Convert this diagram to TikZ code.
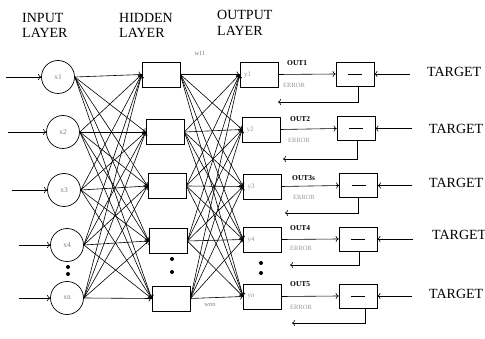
\documentclass[tikz,border=0pt]{standalone}
\usepackage{fontspec}
\setmainfont{Liberation Serif}
\usetikzlibrary{arrows.meta}
\begin{document}
\begin{tikzpicture}[x=1pt,y=-1pt,
  every node/.style={inner sep=0pt},
  neuron/.style={circle,draw,line width=0.7pt,minimum size=33pt,font=\fontsize{7.5}{8}\selectfont,text=gray},
  hid/.style={draw,line width=0.7pt,minimum width=38pt,minimum height=25pt},
  outb/.style={draw,line width=0.7pt,minimum width=38pt,minimum height=25pt,inner xsep=4pt,text width=30pt,align=left,font=\fontsize{7}{8}\selectfont,text=gray!80},
  comp/.style={draw,line width=0.7pt,minimum width=38pt,minimum height=24pt},
  conn/.style={line width=0.6pt,-{To[length=3pt,width=6pt]}},
  bigtxt/.style={font=\fontsize{14}{16}\selectfont,anchor=base west},
  outlbl/.style={font=\bfseries\fontsize{7.5}{9}\selectfont,anchor=base west},
  errlbl/.style={font=\fontsize{6.5}{8}\selectfont,text=gray!80,anchor=base west},
  wlbl/.style={font=\fontsize{6.5}{8}\selectfont,text=gray},
  dotmark/.style={fill=black},
]
\useasboundingbox (0,0) rectangle (485,339);

% layer titles
\node[bigtxt] (inA) at (22,23) {INPUT};
\node[bigtxt] (inB) at (22,38) {LAYER};
\node[bigtxt] (hiA) at (119,23) {HIDDEN};
\node[bigtxt] (hiB) at (119,38) {LAYER};
\node[bigtxt] (ouA) at (217,20) {OUTPUT};
\node[bigtxt] (ouB) at (217,36) {LAYER};

% input neurons
\node[neuron] (x1) at (58,77) {x1\hspace{8pt}};
\node[neuron] (x2) at (63,132) {x2\hspace{5pt}};
\node[neuron] (x3) at (64,190) {x3\hspace{4pt}};
\node[neuron] (x4) at (67,245) {x4\hspace{4pt}};
\node[neuron] (x5) at (67,298) {xn\hspace{4pt}};

% hidden
\node[hid] (h1) at (161,74.5) {};
\node[hid] (h2) at (165,132) {};
\node[hid] (h3) at (167,186) {};
\node[hid] (h4) at (168,241) {};
\node[hid] (h5) at (171,298.5) {};

% output
\node[outb] (y1) at (259,74.5) {y1};
\node[outb] (y2) at (261.5,129.5) {y2};
\node[outb] (y3) at (262.5,186.5) {y3};
\node[outb] (y4) at (262.5,239.5) {y4};
\node[outb] (y5) at (262.5,296.5) {yn};

% comparators
\node[comp] (c1) at (355,74) {\rule{14pt}{0.8pt}};
\node[comp] (c2) at (356,128.5) {\rule{14pt}{0.8pt}};
\node[comp] (c3) at (358.5,185.5) {\rule{14pt}{0.8pt}};
\node[comp] (c4) at (358,239) {\rule{14pt}{0.8pt}};
\node[comp] (c5) at (358,296) {\rule{14pt}{0.8pt}};

% input arrows
\coordinate (i1) at (6,77);
\coordinate (i2) at (8,132);
\coordinate (i3) at (12,190);
\coordinate (i4) at (19,245);
\coordinate (i5) at (19,298);
\foreach \k in {1,...,5} \draw[conn] (i\k) -- (x\k.west);

% full connections
\foreach \i in {1,...,5}
  \foreach \j in {1,...,5} {
    \draw[conn] (x\i.east) -- (h\j.west);
    \draw[conn] (h\i.east) -- (y\j.west);
  }

% weights
\node[wlbl] (w11) at (200,53) {w11};
\node[wlbl] (wnn) at (210,305) {wnn};

% dots
\fill[dotmark] (68,267) circle (2pt) (68,274) circle (2pt);
\fill[dotmark] (172,259) circle (2pt) (172,272) circle (2pt);
\fill[dotmark] (261,263) circle (2pt) (261,273) circle (2pt);

% OUT arrows and labels
\foreach \k in {1,...,5} \draw[conn] (y\k.east) -- (c\k.west);
\node[outlbl] (o1) at (287,66) {OUT1};
\node[outlbl] (o2) at (290,122) {OUT2};
\node[outlbl] (o3) at (292,181) {OUT3s};
\node[outlbl] (o4) at (290,231) {OUT4};
\node[outlbl] (o5) at (290,287) {OUT5};
\node[errlbl] (e1) at (283,88) {ERROR};
\node[errlbl] (e2) at (288,143) {ERROR};
\node[errlbl] (e3) at (293,200) {ERROR};
\node[errlbl] (e4) at (290,251) {ERROR};
\node[errlbl] (e5) at (290,310) {ERROR};

% error feedback
\coordinate (f1) at (278,102);
\coordinate (f2) at (283,159);
\coordinate (f3) at (285,213);
\coordinate (f4) at (290,265);
\coordinate (f5) at (292,323);
\draw[conn] ([xshift=3pt]c1.south) |- (f1);
\draw[conn] ([xshift=1pt]c2.south) |- (f2);
\draw[conn] ([xshift=0pt]c3.south) |- (f3);
\draw[conn] ([xshift=1pt]c4.south) |- (f4);
\draw[conn] ([xshift=7pt]c5.south) |- (f5);

% targets
\coordinate (t1) at (410,74);
\coordinate (t2) at (412,128.5);
\coordinate (t3) at (412,185.5);
\coordinate (t4) at (413,239);
\coordinate (t5) at (412,296);
\foreach \k in {1,...,5} \draw[conn] (t\k) -- (c\k.east);
\node[bigtxt] (T1) at (427,77) {TARGET};
\node[bigtxt] (T2) at (429,134) {TARGET};
\node[bigtxt] (T3) at (429,188) {TARGET};
\node[bigtxt] (T4) at (432,240) {TARGET};
\node[bigtxt] (T5) at (429,299) {TARGET};
\end{tikzpicture}
\end{document}
